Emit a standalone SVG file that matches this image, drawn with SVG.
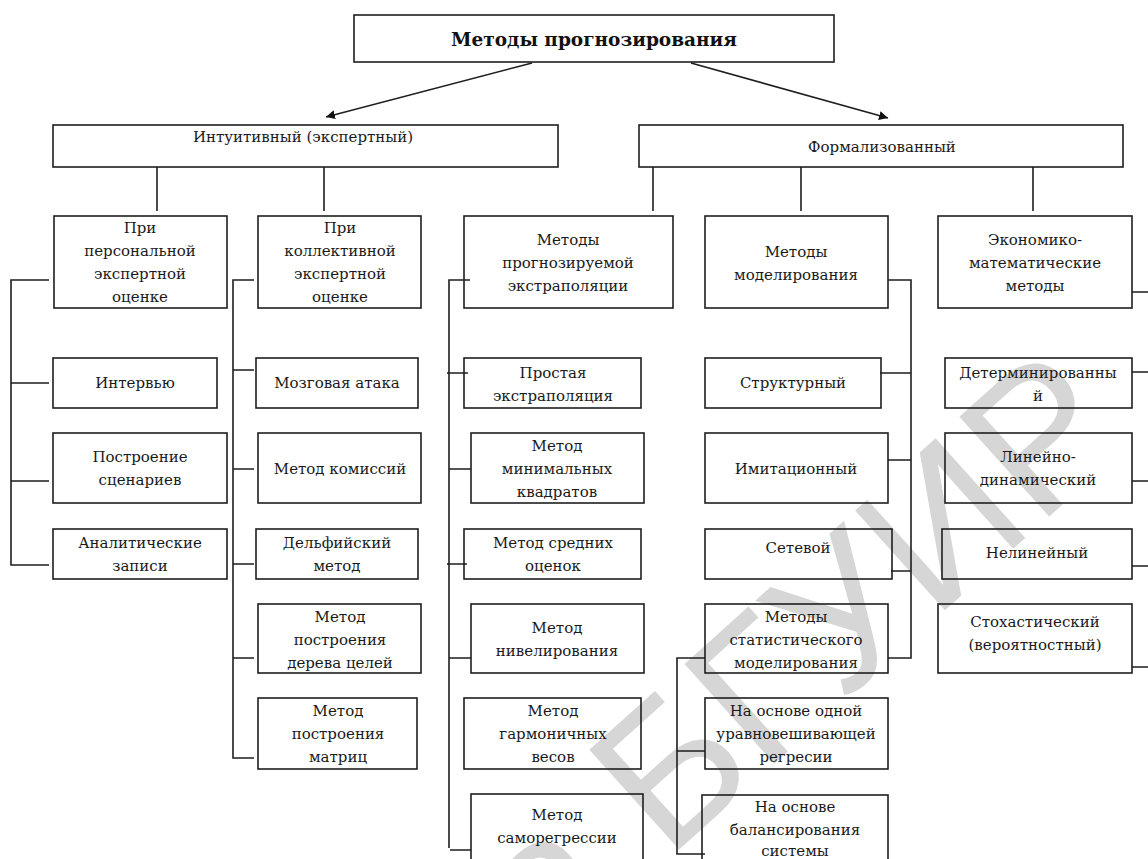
<svg xmlns="http://www.w3.org/2000/svg" width="1148" height="859" viewBox="0 0 1148 859">
<defs>
<style>
.bx{fill:none;stroke:#1e1e1e;stroke-width:1.6}
.t{font-family:"DejaVu Serif","Liberation Serif",serif;font-size:15px;fill:#1a1a1a;text-anchor:middle}
.tb{font-family:"DejaVu Serif","Liberation Serif",serif;font-size:18.5px;font-weight:bold;fill:#111;text-anchor:middle}
.ln{fill:none;stroke:#1e1e1e;stroke-width:1.6}
.wm{font-family:"Liberation Sans",Arial,sans-serif;font-size:195px;fill:#d6d6d6}
</style>
<marker id="ah" viewBox="0 0 10 10" refX="10" refY="5" markerWidth="9" markerHeight="9" markerUnits="userSpaceOnUse" orient="auto"><path d="M0,0 L10,5 L0,10 z" fill="#111"/></marker>
</defs>
<rect width="1148" height="859" fill="#fff"/>
<text class="wm" x="800" y="720" text-anchor="middle" transform="rotate(-42 800 660)">а БГУИР</text>

<g id="connectors">
<line class="ln" x1="532" y1="63" x2="326" y2="117" marker-end="url(#ah)"/>
<line class="ln" x1="691" y1="63" x2="888" y2="118" marker-end="url(#ah)"/>
<path class="ln" d="M157,167V211M324,167V211M653,167V211M801,167V211M1033,167V211"/>
<path class="ln" d="M49,280H11V565H49M11,383H49M11,481H49"/>
<path class="ln" d="M254,280H233V758H254M233,370H254M233,469H254M233,564H254M233,658H254"/>
<path class="ln" d="M470,280H449V848M447,373H468M449,469H471M447,564H467M449,658H471M450,850H471"/>
<path class="ln" d="M888,280H911V658H888M880,373H911M888,460H911M891,571H911"/>
<path class="ln" d="M705,658H677V854H705M677,751H705"/>
<path class="ln" d="M1132,292H1155V667H1132M1132,372H1155M1132,481H1155M1132,566H1155"/>
</g>

<g id="n-root"><rect class="bx" x="354" y="15" width="480" height="47"/><text class="tb" x="594" y="46">Методы прогнозирования</text></g>
<g id="n-intuitive"><rect class="bx" x="53" y="125" width="505" height="42"/><text class="t" x="303" y="142">Интуитивный (экспертный)</text></g>
<g id="n-formal"><rect class="bx" x="639" y="125" width="484" height="42"/><text class="t" x="882" y="152">Формализованный</text></g>

<g id="n-personal"><rect class="bx" x="54" y="216" width="173" height="92"/><text class="t"><tspan x="140" y="233">При</tspan><tspan x="140" y="256">персональной</tspan><tspan x="140" y="279">экспертной</tspan><tspan x="140" y="302">оценке</tspan></text></g>
<g id="n-collective"><rect class="bx" x="258" y="216" width="163" height="92"/><text class="t"><tspan x="340" y="233">При</tspan><tspan x="340" y="256">коллективной</tspan><tspan x="340" y="279">экспертной</tspan><tspan x="340" y="302">оценке</tspan></text></g>
<g id="n-extrap"><rect class="bx" x="464" y="216" width="209" height="92"/><text class="t"><tspan x="568" y="245">Методы</tspan><tspan x="568" y="268">прогнозируемой</tspan><tspan x="568" y="291">экстраполяции</tspan></text></g>
<g id="n-modeling"><rect class="bx" x="705" y="216" width="183" height="92"/><text class="t"><tspan x="796" y="257">Методы</tspan><tspan x="796" y="280">моделирования</tspan></text></g>
<g id="n-econ"><rect class="bx" x="938" y="216" width="194" height="92"/><text class="t"><tspan x="1035" y="245">Экономико-</tspan><tspan x="1035" y="268">математические</tspan><tspan x="1035" y="291">методы</tspan></text></g>

<g id="n-interview"><rect class="bx" x="53" y="358" width="164" height="50"/><text class="t" x="135" y="388">Интервью</text></g>
<g id="n-scenarios"><rect class="bx" x="53" y="433" width="174" height="70"/><text class="t"><tspan x="140" y="462">Построение</tspan><tspan x="140" y="485">сценариев</tspan></text></g>
<g id="n-analytic"><rect class="bx" x="53" y="529" width="174" height="50"/><text class="t"><tspan x="140" y="548">Аналитические</tspan><tspan x="140" y="571">записи</tspan></text></g>

<g id="n-brainstorm"><rect class="bx" x="256" y="358" width="162" height="50"/><text class="t" x="337" y="388">Мозговая атака</text></g>
<g id="n-commissions"><rect class="bx" x="258" y="433" width="163" height="70"/><text class="t" x="340" y="474">Метод комиссий</text></g>
<g id="n-delphi"><rect class="bx" x="256" y="529" width="162" height="50"/><text class="t"><tspan x="337" y="548">Дельфийский</tspan><tspan x="337" y="571">метод</tspan></text></g>
<g id="n-goaltree"><rect class="bx" x="258" y="604" width="163" height="69"/><text class="t"><tspan x="340" y="622">Метод</tspan><tspan x="340" y="645">построения</tspan><tspan x="340" y="668">дерева целей</tspan></text></g>
<g id="n-matrix"><rect class="bx" x="258" y="698" width="159" height="71"/><text class="t"><tspan x="338" y="716">Метод</tspan><tspan x="338" y="739">построения</tspan><tspan x="338" y="762">матриц</tspan></text></g>

<g id="n-simple"><rect class="bx" x="464" y="358" width="177" height="50"/><text class="t"><tspan x="553" y="378">Простая</tspan><tspan x="553" y="401">экстраполяция</tspan></text></g>
<g id="n-lsq"><rect class="bx" x="471" y="433" width="173" height="70"/><text class="t"><tspan x="557" y="451">Метод</tspan><tspan x="557" y="474">минимальных</tspan><tspan x="557" y="497">квадратов</tspan></text></g>
<g id="n-avg"><rect class="bx" x="464" y="529" width="177" height="50"/><text class="t"><tspan x="553" y="548">Метод средних</tspan><tspan x="553" y="571">оценок</tspan></text></g>
<g id="n-level"><rect class="bx" x="471" y="604" width="173" height="69"/><text class="t"><tspan x="557" y="633">Метод</tspan><tspan x="557" y="656">нивелирования</tspan></text></g>
<g id="n-harmonic"><rect class="bx" x="464" y="698" width="177" height="71"/><text class="t"><tspan x="553" y="716">Метод</tspan><tspan x="553" y="739">гармоничных</tspan><tspan x="553" y="762">весов</tspan></text></g>
<g id="n-autoreg"><rect class="bx" x="471" y="794" width="172" height="90"/><text class="t"><tspan x="557" y="820">Метод</tspan><tspan x="557" y="843">саморегрессии</tspan></text></g>

<g id="n-struct"><rect class="bx" x="705" y="358" width="176" height="50"/><text class="t" x="793" y="388">Структурный</text></g>
<g id="n-imit"><rect class="bx" x="705" y="433" width="183" height="70"/><text class="t" x="796" y="474">Имитационный</text></g>
<g id="n-net"><rect class="bx" x="705" y="529" width="187" height="50"/><text class="t" x="798" y="553">Сетевой</text></g>
<g id="n-stat"><rect class="bx" x="705" y="604" width="183" height="69"/><text class="t"><tspan x="796" y="622">Методы</tspan><tspan x="796" y="645">статистического</tspan><tspan x="796" y="668">моделирования</tspan></text></g>
<g id="n-onereg"><rect class="bx" x="705" y="698" width="183" height="71"/><text class="t"><tspan x="796" y="716">На основе одной</tspan><tspan x="796" y="739">уравновешивающей</tspan><tspan x="796" y="762">регресии</tspan></text></g>
<g id="n-balance"><rect class="bx" x="702" y="795" width="186" height="90"/><text class="t"><tspan x="795" y="812">На основе</tspan><tspan x="795" y="835">балансирования</tspan><tspan x="795" y="856">системы</tspan></text></g>

<g id="n-determ"><rect class="bx" x="945" y="358" width="187" height="50"/><text class="t"><tspan x="1038" y="378">Детерминированны</tspan><tspan x="1038" y="401">й</tspan></text></g>
<g id="n-lindyn"><rect class="bx" x="945" y="433" width="187" height="70"/><text class="t"><tspan x="1038" y="462">Линейно-</tspan><tspan x="1038" y="485">динамический</tspan></text></g>
<g id="n-nonlin"><rect class="bx" x="942" y="529" width="190" height="50"/><text class="t" x="1037" y="558">Нелинейный</text></g>
<g id="n-stoch"><rect class="bx" x="938" y="604" width="194" height="69"/><text class="t"><tspan x="1035" y="627">Стохастический</tspan><tspan x="1035" y="650">(вероятностный)</tspan></text></g>
</svg>
